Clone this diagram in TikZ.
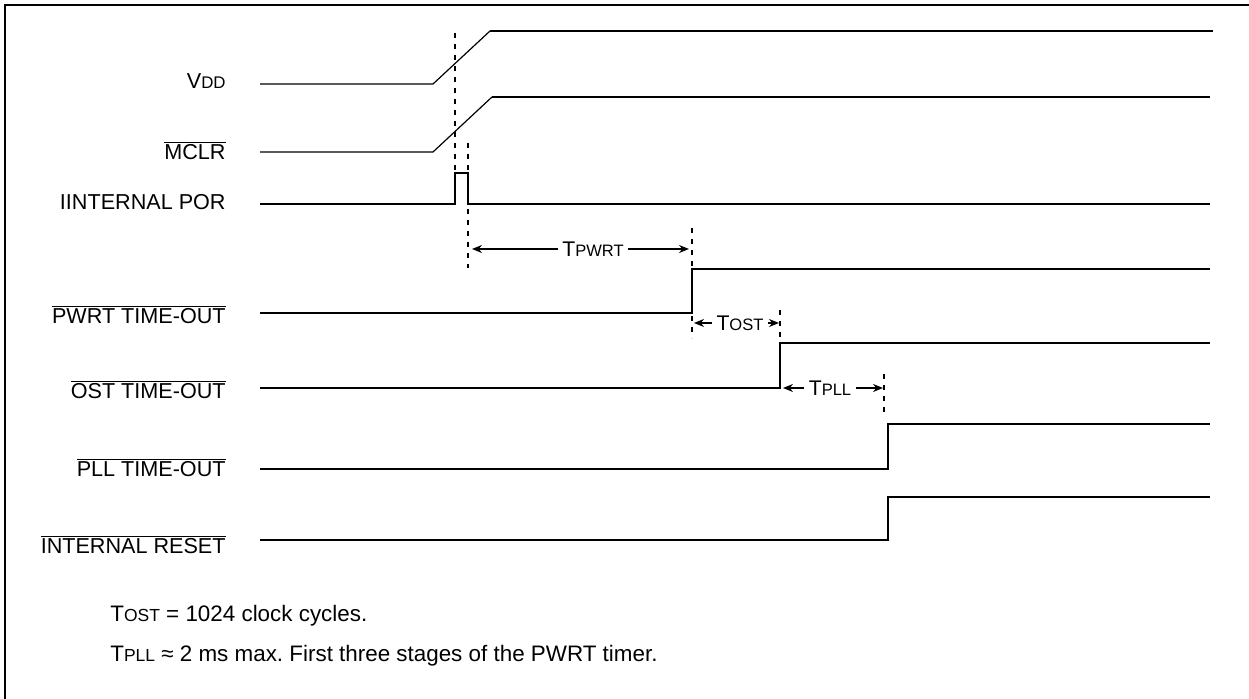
\documentclass[tikz,border=0pt]{standalone}
\usepackage{fontspec}
\setmainfont{Liberation Sans}
\usepackage{graphicx}
\usetikzlibrary{arrows.meta,positioning}
\newcommand{\lowc}[1]{\scalebox{0.78}{#1}}
\newcommand{\negsig}[1]{$\overline{\hbox{#1}}$}
\frenchspacing

\begin{document}
\begin{tikzpicture}[x=0.5pt, y=-0.5pt,
  lbl/.style={anchor=base east, inner sep=0pt, font=\fontsize{10.8}{12}\selectfont},
  tlbl/.style={inner sep=2pt, font=\fontsize{10.6}{12}\selectfont},
  note/.style={anchor=base west, inner sep=0pt, font=\fontsize{11.2}{13}\selectfont},
  sig/.style={line width=1pt},
  ramp/.style={line width=0.6pt},
  guide/.style={line width=0.8pt, dash pattern=on 2.5pt off 3pt},
  dim/.style={line width=0.75pt, -{Stealth[length=5pt,width=4pt]}}
]
  \useasboundingbox (0,0) rectangle (1249,699);
  \draw[line width=1pt] (5,699) -- (5,5) -- (1249,5);

  \node[lbl] (vdd)  at (226,89)  {V\lowc{DD}};
  \node[lbl] (mclr) at (226,160) {\negsig{MCLR}};
  \node[lbl] (por)  at (226,210) {IINTERNAL POR};
  \node[lbl] (pwrt) at (226,324) {\negsig{PWRT TIME-OUT}};
  \node[lbl] (ost)  at (226,399) {\negsig{OST TIME-OUT}};
  \node[lbl] (pll)  at (226,477) {\negsig{PLL TIME-OUT}};
  \node[lbl] (rst)  at (226,554) {\negsig{INTERNAL RESET}};

  \draw[ramp] (260,84) -- (433,84) -- (490,31);
  \draw[sig] (490,31) -- (1213,31);
  \draw[ramp] (260,152) -- (433,152) -- (492,97);
  \draw[sig] (492,97) -- (1210,97);
  \draw[sig] (260,204) -- (455,204) -- (455,173) -- (468,173) -- (468,204) -- (1210,204);
  \draw[sig] (260,313) -- (692,313) -- (692,269) -- (1210,269);
  \draw[sig] (260,388) -- (780,388) -- (780,343) -- (1210,343);
  \draw[sig] (260,469) -- (888,469) -- (888,424) -- (1210,424);
  \draw[sig] (260,540) -- (888,540) -- (888,497) -- (1210,497);

  \draw[guide] (455,33) -- (455,173);
  \draw[guide] (468,143) -- (468,268);
  \draw[guide] (692,228) -- (692,338);
  \draw[guide] (780,310) -- (780,345);
  \draw[guide] (884,374) -- (884,414);

  \node[tlbl] (tpwrt) at (593,249) {T\lowc{PWRT}};
  \node[tlbl] (tost)  at (740,323) {T\lowc{OST}};
  \node[tlbl] (tpll)  at (830,388) {T\lowc{PLL}};
  \coordinate (pwrtA) at (472,249);
  \coordinate (pwrtB) at (689,249);
  \coordinate (ostA)  at (694,323);
  \coordinate (ostB)  at (779,323);
  \coordinate (pllA)  at (783,388);
  \coordinate (pllB)  at (883,388);
  \draw[dim] (tpwrt) -- (pwrtA);
  \draw[dim] (tpwrt) -- (pwrtB);
  \draw[dim] (tost) -- (ostA);
  \draw[dim] (tost) -- (ostB);
  \draw[dim] (tpll) -- (pllA);
  \draw[dim] (tpll) -- (pllB);

  \node[note] (tostnote) at (110,622) {T\lowc{OST} = 1024 clock cycles.};
  \node[note] (tpllnote) at (110,662) {T\lowc{PLL} ≈ 2 ms max. First three stages of the PWRT timer.};
\end{tikzpicture}
\end{document}
